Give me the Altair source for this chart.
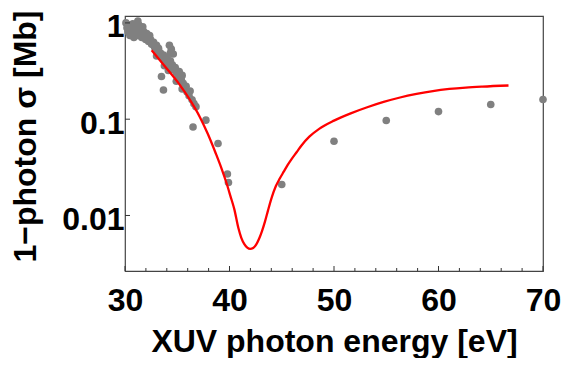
import altair as alt
import pandas as pd

# Experimental points (photon energy eV, cross section Mb)
exp_E = [30.09, 30.19, 30.28, 30.38, 30.47, 30.57, 30.66, 30.75, 30.85, 30.94,
         31.04, 31.13, 31.23, 31.32, 31.42, 31.51, 31.60, 31.70, 31.79, 31.89,
         31.98, 32.08, 32.17, 32.26, 32.36, 32.45,
         32.55, 32.74, 32.83, 33.02, 33.02, 33.11, 33.21, 33.40, 33.49, 33.68,
         33.77, 33.77, 33.96, 34.06, 34.15, 34.25, 34.34, 34.53, 34.62, 34.81,
         34.91, 34.91, 35.09, 35.19, 35.38, 35.47, 35.47, 35.57, 35.66, 35.85,
         35.94, 36.13, 36.23, 36.42, 36.60, 36.79,
         34.25, 34.43, 34.62, 34.34,
         33.49, 33.68, 36.51, 37.74, 38.9, 39.8, 39.9,
         45.0, 50.0, 55.0, 60.0, 65.0, 70.0]
exp_sigma = [1.000, 0.890, 0.811, 0.954, 0.739, 0.870, 0.792, 0.977, 0.705, 0.890,
             0.811, 0.739, 1.047, 0.954, 0.870, 0.774, 0.705, 0.911, 0.811, 0.739,
             0.673, 0.774, 0.705, 0.643, 0.739, 0.673,
             0.599, 0.628, 0.559, 0.586, 0.454, 0.521, 0.546, 0.486, 0.443, 0.464,
             0.413, 0.359, 0.433, 0.385, 0.320, 0.359, 0.404, 0.368, 0.327, 0.343,
             0.305, 0.248, 0.278, 0.313, 0.260, 0.285, 0.206, 0.236, 0.210, 0.220,
             0.192, 0.175, 0.196, 0.159, 0.145, 0.135,
             0.586, 0.534, 0.475, 0.486,
             0.278, 0.201, 0.083, 0.0977, 0.056, 0.027, 0.022,
             0.021, 0.059, 0.097, 0.12, 0.142, 0.16]

# Theory curve
th_E = [32.55, 34.15, 35.19, 36.32, 37.17, 37.92, 38.68, 39.25, 39.72, 40.09,
        40.47, 40.85, 41.13, 41.42, 41.70, 41.98, 42.26, 42.55, 42.83, 43.11,
        43.40, 43.68, 44.06, 44.43, 44.81, 45.19, 45.57, 45.94, 46.42, 46.89,
        47.64, 48.58, 50.0, 51.6, 53.18, 54.75, 56.32, 57.9, 59.46, 61.04,
        62.61, 64.18, 66.7]
th_sigma = [0.521, 0.320, 0.231, 0.152, 0.105, 0.0705, 0.0443, 0.0305, 0.0216, 0.0159,
            0.0115, 0.0074, 0.00586, 0.00504, 0.00464, 0.00449, 0.00459, 0.00498, 0.00573, 0.00689,
            0.00869, 0.01124, 0.0156, 0.0201, 0.0242, 0.0285, 0.0335, 0.0385, 0.0454, 0.0534,
            0.0658, 0.0793, 0.0966, 0.115, 0.133, 0.151, 0.168, 0.183, 0.196, 0.206,
            0.213, 0.218, 0.224]

x_major = [30, 40, 50, 60, 70]
x_minor = [32, 34, 36, 38, 42, 44, 46, 48, 52, 54, 56, 58, 62, 64, 66, 68]
y_major = [0.01, 0.1, 1]

W, H = 418, 255
FONT = "Liberation Sans"

exp_df = pd.DataFrame({"E": exp_E, "sigma": exp_sigma})
th_df = pd.DataFrame({"E": th_E, "sigma": th_sigma})

xscale = alt.Scale(domain=[30, 70], nice=False, zero=False)
yscale = alt.Scale(type="log", domain=[0.00265, 1.18], nice=False)

xaxis = alt.Axis(values=x_major, format="d", ticks=False, domain=False, grid=False,
                 labelFont=FONT, labelFontSize=32, labelFontWeight="bold", labelColor="black",
                 labelPadding=14, labelFlush=False, labelOverlap=False,
                 title="XUV photon energy [eV]", titleFont=FONT, titleFontSize=32,
                 titleFontWeight="bold", titleColor="black",
                 titleBaseline="alphabetic", titleY=80)
yaxis = alt.Axis(values=y_major, format="~g", ticks=False, domain=False, grid=False,
                 labelFont=FONT, labelFontSize=32, labelFontWeight="bold", labelColor="black",
                 labelPadding=1, labelOffset=4, labelFlush=False, labelOverlap=False,
                 title="1−photon σ [Mb]", titleFont=FONT, titleFontSize=32,
                 titleFontWeight="bold", titleColor="black",
                 titleBaseline="alphabetic", titleX=-90, titleY=120)

pts = alt.Chart(exp_df).mark_circle(size=58, color="#808080", opacity=1).encode(
    x=alt.X("E:Q", scale=xscale, axis=xaxis),
    y=alt.Y("sigma:Q", scale=yscale, axis=yaxis),
)

line = alt.Chart(th_df).mark_line(color="#ff0000", strokeWidth=2.3, interpolate="monotone").encode(
    x=alt.X("E:Q", scale=xscale, axis=xaxis),
    y=alt.Y("sigma:Q", scale=yscale, axis=yaxis),
)

xmaj = alt.Chart(pd.DataFrame({"E": x_major})).mark_rule(color="#333", strokeWidth=1).encode(
    x=alt.X("E:Q", scale=xscale, axis=xaxis), y=alt.value(H), y2=alt.value(H - 5))
xmin = alt.Chart(pd.DataFrame({"E": x_minor})).mark_rule(color="#333", strokeWidth=1).encode(
    x=alt.X("E:Q", scale=xscale, axis=xaxis), y=alt.value(H), y2=alt.value(H - 3))
ymaj = alt.Chart(pd.DataFrame({"sigma": y_major})).mark_rule(color="#333", strokeWidth=1).encode(
    y=alt.Y("sigma:Q", scale=yscale, axis=yaxis), x=alt.value(0), x2=alt.value(5))

chart = alt.layer(pts, line, xmaj, xmin, ymaj).properties(
    width=W, height=H,
    background="white",
    autosize=alt.AutoSizeParams(type="none"),
    padding={"left": 117, "top": 8, "right": 18, "bottom": 87},
).configure_view(stroke="#444", strokeWidth=1.2)

chart.save("out.html", embed_options={"renderer": "svg", "actions": False})
